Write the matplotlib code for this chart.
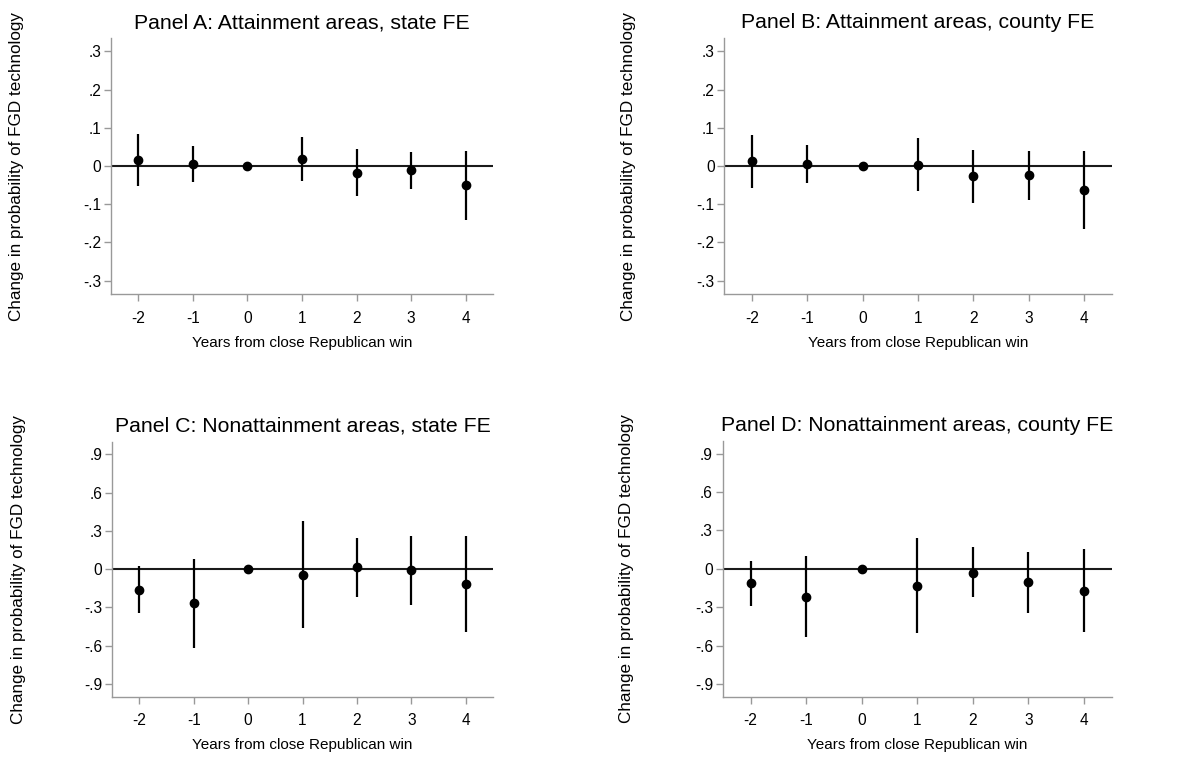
import matplotlib
matplotlib.use('Agg')
import matplotlib.pyplot as plt

plt.rcParams['font.family'] = ['Liberation Sans', 'DejaVu Sans']

years = [-2, -1, 0, 1, 2, 3, 4]

# Panel A: attainment areas, state FE
est_a = [0.017, 0.005, 0.0, 0.018, -0.017, -0.011, -0.049]
lo_a = [-0.052, -0.043, 0.0, -0.038, -0.079, -0.060, -0.140]
hi_a = [0.083, 0.052, 0.0, 0.075, 0.045, 0.037, 0.039]

# Panel B: attainment areas, county FE
est_b = [0.012, 0.005, 0.0, 0.004, -0.027, -0.023, -0.062]
lo_b = [-0.057, -0.045, 0.0, -0.066, -0.098, -0.088, -0.164]
hi_b = [0.080, 0.056, 0.0, 0.073, 0.041, 0.040, 0.040]

# Panel C: nonattainment areas, state FE
est_c = [-0.160, -0.267, 0.0, -0.044, 0.016, -0.010, -0.120]
lo_c = [-0.340, -0.615, 0.0, -0.460, -0.215, -0.280, -0.494]
hi_c = [0.024, 0.078, 0.0, 0.374, 0.243, 0.259, 0.259]

# Panel D: nonattainment areas, county FE
est_d = [-0.113, -0.220, 0.0, -0.131, -0.029, -0.107, -0.170]
lo_d = [-0.288, -0.536, 0.0, -0.500, -0.220, -0.348, -0.494]
hi_d = [0.060, 0.097, 0.0, 0.238, 0.167, 0.131, 0.152]

titles = ["Panel A: Attainment areas, state FE",
          "Panel B: Attainment areas, county FE",
          "Panel C: Nonattainment areas, state FE",
          "Panel D: Nonattainment areas, county FE"]
ytick_small = [-0.3, -0.2, -0.1, 0, 0.1, 0.2, 0.3]
ytick_small_lbl = ['-.3', '-.2', '-.1', '0', '.1', '.2', '.3']
ytick_big = [-0.9, -0.6, -0.3, 0, 0.3, 0.6, 0.9]
ytick_big_lbl = ['-.9', '-.6', '-.3', '0', '.3', '.6', '.9']

fig = plt.figure(figsize=(11.93, 7.59), dpi=100)

panels = [
    ([0.0930, 0.6126, 0.3202, 0.3373], est_a, lo_a, hi_a, ytick_small, ytick_small_lbl, 0.335),
    ([0.6071, 0.6126, 0.3247, 0.3373], est_b, lo_b, hi_b, ytick_small, ytick_small_lbl, 0.335),
    ([0.0939, 0.0821, 0.3194, 0.3360], est_c, lo_c, hi_c, ytick_big, ytick_big_lbl, 1.0),
    ([0.6058, 0.0821, 0.3261, 0.3370], est_d, lo_d, hi_d, ytick_big, ytick_big_lbl, 1.0),
]

for (rect, est, lo, hi, yt, ytl, lim), title in zip(panels, titles):
    ax = fig.add_axes(rect)
    ax.axhline(0, color='#1a1a1a', lw=1.5, zorder=1)
    ax.vlines(years, lo, hi, color='black', lw=1.6, zorder=2)
    ax.plot(years, est, 'o', color='black', ms=6, zorder=3)
    ax.set_xlim(-2.5, 4.5)
    ax.set_ylim(-lim, lim)
    ax.set_xticks(years)
    ax.set_xticklabels([str(y) for y in years])
    ax.set_yticks(yt)
    ax.set_yticklabels(ytl)
    for s in ['top', 'right']:
        ax.spines[s].set_visible(False)
    for s in ['left', 'bottom']:
        ax.spines[s].set_color('#999999')
        ax.spines[s].set_linewidth(1.0)
    ax.tick_params(axis='both', colors='#999999', labelcolor='black',
                   length=5, width=1, labelsize=11.2)
    ax.tick_params(axis='x', pad=7)
    ax.tick_params(axis='y', pad=2)
    ax.set_title(title, fontsize=15.3, pad=7)
    ax.set_xlabel("Years from close Republican win", fontsize=11)
    ax.set_ylabel("Change in probability of FGD technology", fontsize=12.3)
    ax.xaxis.set_label_coords(0.5, -0.163)
    ax.yaxis.set_label_coords(-0.227, 0.5)

plt.savefig('out.png', dpi=100)
plt.close()
